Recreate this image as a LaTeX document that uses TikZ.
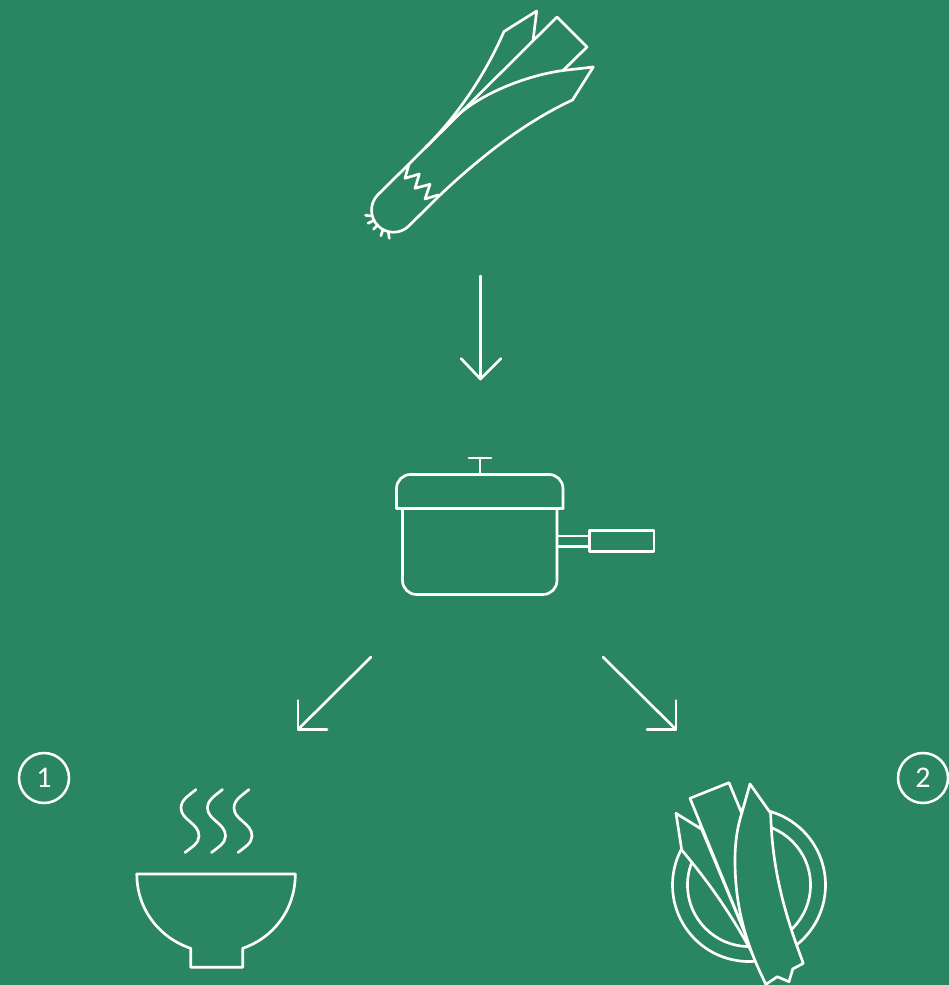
\documentclass[tikz,border=0pt]{standalone}
\usepackage{fontspec}
\setmainfont{Carlito}
\definecolor{bg}{HTML}{2A8562}
\tikzset{
  px/.style={x=0.75pt,y=-0.75pt},
  ink/.style={draw=white,line width=2pt,line join=round,line cap=round},
  leaf/.style={ink,fill=bg},
  badge/.style={circle,draw=white,line width=1.9pt,minimum size=37.5pt,inner sep=0pt,text=white,font=\fontsize{22.5pt}{22.5pt}\selectfont},
}
\begin{document}
\begin{tikzpicture}[px]
\path[fill=bg,use as bounding box] (0,0) rectangle (949,985);
\begin{scope}
\clip (0,0) rectangle (949,985);
% leek
\draw[ink] (409,164) -- (557,17) -- (587,47) -- (563,70.5);
\draw[ink] (425,148) .. controls (458,115) and (485,75) .. (504,31.5) -- (536.7,11) -- (533,40.5);
\draw[ink] (440,133) .. controls (450,123) and (456,116) .. (464,110) .. controls (490,90) and (530,75) .. (563,70.5) -- (593.3,67) -- (572.5,100)
  .. controls (525,122) and (480,157) .. (438,197) -- (409,225.8)
  .. controls (400.4,234.4) and (386.6,234.4) .. (378,225.8)
  .. controls (369.4,217.2) and (369.4,203.2) .. (378,194.6) -- (409,164);
\draw[ink] (409,164) -- (405,178.3) -- (419.3,174) -- (415,188.3) -- (430,184.3) -- (425,199) -- (438,195);
\draw[ink] (365.5,215.3) -- (371.7,216);
\draw[ink] (368,223.3) -- (373.3,220.7);
\draw[ink] (373.5,229.3) -- (377.7,225);
\draw[ink] (381,235.7) -- (383,229.3);
\draw[ink] (389.3,238.3) -- (388.3,231.7);
% first arrow
\coordinate (a1s) at (480.5,276);
\coordinate (a1e) at (480.5,379);
\draw[ink] (a1s) -- (a1e);
\draw[ink] (461,358.5) -- (a1e) -- (501,358.5);
% pot
\draw[ink,rounded corners=10.5pt] (396.5,508.5) -- (396.5,474.5) -- (563,474.5) -- (563,508.5);
\draw[ink] (396.5,508.5) -- (563,508.5);
\draw[ink,rounded corners=10.5pt] (402.5,509) -- (402.5,594.5) -- (557,594.5) -- (557,509);
\draw[ink] (480,474) -- (480,458);
\draw[ink] (469,458) -- (491,458);
\draw[ink] (557,536) -- (589.5,536);
\draw[ink] (557,546.5) -- (589.5,546.5);
\draw[ink] (589.5,530.5) rectangle (654,551.5);
% diagonal arrows
\coordinate (a2s) at (371,657);
\coordinate (a2e) at (298,729.5);
\coordinate (a3s) at (603,657);
\coordinate (a3e) at (676,729.5);
\draw[ink] (a2s) -- (a2e);
\draw[ink] (298,700.5) -- (a2e) -- (327,729.5);
\draw[ink] (a3s) -- (a3e);
\draw[ink] (676,700.5) -- (a3e) -- (647,729.5);
% badges
\node[badge] (one) at (44,778) {1};
\node[badge] (two) at (923,778) {2};
% steam
\foreach \d in {0,26.5,53} {
\draw[ink,shift={(\d,0)}] (196,789.5) .. controls (188,796) and (181,800) .. (181,808)
  .. controls (181,820) and (199,823) .. (199,836) .. controls (199,843) and (192,847) .. (185,852.5);
}
% bowl
\draw[ink] (136.8,874) -- (295.3,874) .. controls (295.3,910) and (273,938) .. (242.7,948.3) -- (242.7,967.3) -- (190.7,967.3) -- (190.7,948.3) .. controls (160,938) and (136.8,910) .. (136.8,874) -- cycle;
% plate
\draw[ink] (749,885) circle[radius=76.5];
\draw[ink] (749,885) circle[radius=61.5];
% greens on the plate
\draw[leaf] (676,813.3) -- (701.7,829.3) -- (757,962) .. controls (735,920) and (712,886) .. (681.7,850) -- cycle;
\draw[leaf] (690,798.3) -- (729,782.7) -- (741.7,813.3) -- (765,960) -- (767,987) -- cycle;
\draw[leaf] (750,784) -- (770.7,813.3) .. controls (772,870) and (785,915) .. (803.3,963.3) -- (792.7,969) -- (789,981.7) -- (777.3,976.7) -- (766,984.3)
  .. controls (745,943) and (735,905) .. (735,860) .. controls (735,840) and (738,825) .. (741.7,813.3) -- cycle;
\end{scope}
\end{tikzpicture}
\end{document}
